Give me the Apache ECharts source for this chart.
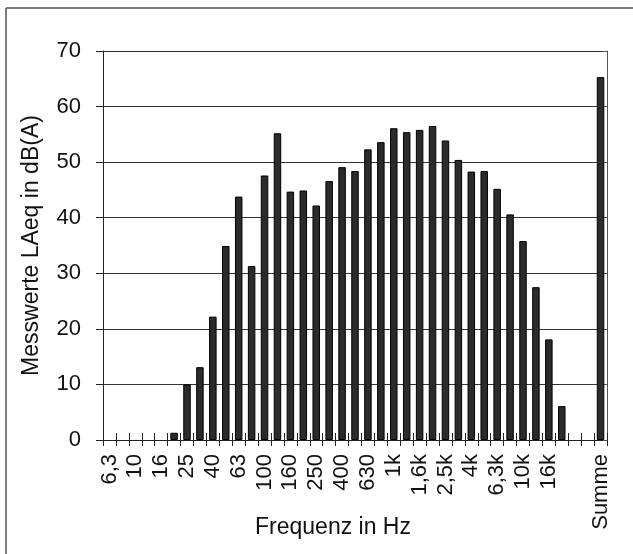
<!DOCTYPE html>
<html>
<head>
<meta charset="utf-8">
<script src="https://cdn.jsdelivr.net/npm/echarts@6/dist/echarts.min.js"></script>
<style>
  html, body { margin: 0; padding: 0; background: #fff; }
  #chart { width: 633px; height: 554px; }
</style>
</head>
<body>
<div id="chart"></div>
<script>
// Terzbänder 6,3 Hz ... 20 kHz, zwei Leerplätze, dann Summe
const bands = [
  "6,3", "8", "10", "12,5", "16", "20", "25", "31,5", "40", "50",
  "63", "80", "100", "125", "160", "200", "250", "315", "400", "500",
  "630", "800", "1k", "1,25k", "1,6k", "2k", "2,5k", "3,15k", "4k", "5k",
  "6,3k", "8k", "10k", "12,5k", "16k", "20k", " ", "  ", "Summe",
];

// Messwerte LAeq in dB(A)
const laeq = [
  null, null, null, null, null, 1.3, 10, 13.1, 22.2, 34.9,
  43.8, 31.3, 47.6, 55.2, 44.7, 44.9, 42.2, 46.6, 49.1, 48.4,
  52.3, 53.6, 56.1, 55.4, 55.8, 56.5, 53.9, 50.4, 48.3, 48.4,
  45.2, 40.6, 35.8, 27.5, 18.1, 6.1, null, null, 65.3,
];

const yMin = 0;
const yMax = 70;
const yStep = 10;

const font = "Liberation Sans, Arial, sans-serif";
const chart = echarts.init(document.getElementById("chart"));

chart.setOption({
  backgroundColor: "#fff",
  animation: false,
  textStyle: { fontFamily: font, color: "#111" },
  grid: { left: 103, right: 26, top: 51, bottom: 114, outerBoundsMode: "none" },
  graphic: [
    { type: "line", shape: { x1: 6, y1: 8, x2: 6, y2: 560 }, style: { stroke: "#555", lineWidth: 1.5 } },
    { type: "line", shape: { x1: 6, y1: 8, x2: 640, y2: 8 }, style: { stroke: "#555", lineWidth: 1.5 } },
  ],
  xAxis: [
    {
      type: "category",
      data: bands,
      position: "bottom",
      name: "Frequenz in Hz",
      nameLocation: "middle",
      nameGap: 76,
      nameMoveOverlap: false,
      nameTextStyle: { fontSize: 23, color: "#111", padding: [0, 44, 0, 0] },
      axisLine: { lineStyle: { color: "#222", width: 1 } },
      axisTick: { show: true, interval: 0, length: 6, lineStyle: { color: "#222" } },
      axisLabel: { interval: 1, rotate: 90, margin: 14, fontSize: 22, color: "#111" },
    },
    {
      type: "category",
      data: bands,
      position: "top",
      offset: -389,
      axisLine: { show: false },
      axisTick: { show: true, interval: 0, length: 7, lineStyle: { color: "#222" } },
      axisLabel: { show: false },
    },
  ],
  yAxis: [
    {
      type: "value",
      min: yMin,
      max: yMax,
      interval: yStep,
      name: "Messwerte LAeq in dB(A)",
      nameLocation: "middle",
      nameGap: 60,
      nameMoveOverlap: false,
      nameTextStyle: { fontSize: 23, color: "#111" },
      axisLine: { show: true, lineStyle: { color: "#222" } },
      axisTick: { show: true, length: 7, lineStyle: { color: "#222" } },
      axisLabel: { margin: 22, fontSize: 22, color: "#111" },
      splitLine: { lineStyle: { color: "#333", width: 1 } },
    },
    {
      type: "value",
      position: "right",
      min: yMin,
      max: yMax,
      interval: yStep,
      axisLine: { show: true, lineStyle: { color: "#555" } },
      axisTick: { show: true, inside: true, length: 4, lineStyle: { color: "#555" } },
      axisLabel: { show: false },
      splitLine: { show: false },
    },
  ],
  series: [
    {
      type: "bar",
      data: laeq,
      barWidth: "58%",
      itemStyle: { color: "#2b2b2b", borderColor: "#000", borderWidth: 1 },
    },
  ],
});
</script>
</body>
</html>
